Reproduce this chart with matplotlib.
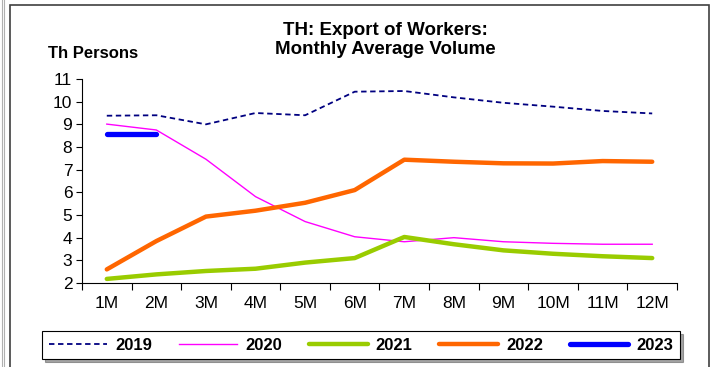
import matplotlib.pyplot as plt
from matplotlib.patches import Rectangle

plt.rcParams['font.family'] = ['Liberation Sans', 'DejaVu Sans']

months = ['1M', '2M', '3M', '4M', '5M', '6M', '7M', '8M', '9M', '10M', '11M', '12M']

y2019 = [9.38, 9.4, 9.0, 9.5, 9.4, 10.44, 10.47, 10.19, 9.95, 9.78, 9.59, 9.48]
y2020 = [9.01, 8.75, 7.46, 5.81, 4.71, 4.04, 3.82, 4.0, 3.82, 3.75, 3.71, 3.71]
y2021 = [2.18, 2.38, 2.53, 2.63, 2.9, 3.1, 4.03, 3.71, 3.44, 3.29, 3.18, 3.1]
y2022 = [2.6, 3.85, 4.93, 5.19, 5.54, 6.1, 7.44, 7.35, 7.28, 7.27, 7.38, 7.35]
y2023 = [8.57, 8.57]

fig = plt.figure(figsize=(7.12, 3.67), dpi=100)
ax = fig.add_axes([82 / 712, 1 - 283 / 367, 595 / 712, 204 / 367])

x = list(range(1, 13))
ax.plot(x, y2019, color='#000080', lw=1.3, ls=(0, (3, 2)), label='2019')
ax.plot(x, y2020, color='#FF00FF', lw=1.0, label='2020')
ax.plot(x, y2021, color='#99CC00', lw=3.2, solid_capstyle='round', label='2021')
ax.plot(x, y2022, color='#FF6600', lw=3.2, solid_capstyle='round', label='2022')
ax.plot(x[:len(y2023)], y2023, color='#0000FF', lw=3.8, solid_capstyle='round', label='2023')

ax.set_xlim(0.5, 12.5)
ax.set_ylim(2, 11)
ax.set_yticks(range(2, 12))
ax.tick_params(axis='y', direction='out', length=4, width=0.8, labelsize=12.5, pad=3)

# category labels sit between the boundary tick marks
ax.set_xticks([i + 0.5 for i in range(0, 13)])
ax.set_xticklabels([])
ax.set_xticks(x, minor=True)
ax.set_xticklabels(months, minor=True)
ax.tick_params(axis='x', which='major', direction='out', length=5, width=0.8)
ax.tick_params(axis='x', which='minor', length=0, labelsize=12.5, pad=9)

for side in ['top', 'right']:
    ax.spines[side].set_visible(False)
for side in ['left', 'bottom']:
    ax.spines[side].set_linewidth(0.8)

fig.text(385 / 712, 1 - 40 / 367, 'TH: Export of Workers:\nMonthly Average Volume',
         ha='center', va='center', fontsize=13.5, fontweight='bold', linespacing=1.15)
fig.text(48 / 712, 1 - 53 / 367, 'Th Persons', ha='left', va='center',
         fontsize=12, fontweight='bold')

leg = fig.legend(loc='center', bbox_to_anchor=(361 / 712, 1 - 345 / 367), ncol=5,
                 frameon=True, fancybox=False, shadow=True, edgecolor='black',
                 prop={'weight': 'bold', 'size': 12},
                 handlelength=3.5, handletextpad=0.5, columnspacing=1.6,
                 borderpad=0.4)
leg.get_frame().set_linewidth(0.8)

# outer chart frame and page edge
fig.patches.append(Rectangle((10 / 712, -0.05), 699 / 712, 1.05 - 5 / 367,
                             transform=fig.transFigure, fill=False,
                             edgecolor='#404040', lw=1.2))
fig.patches.append(Rectangle((2 / 712, -0.05), 2 / 712, 1.1,
                             transform=fig.transFigure, fill=False,
                             edgecolor='#b0b0b0', lw=0.8))

fig.savefig('out.png', dpi=100)
